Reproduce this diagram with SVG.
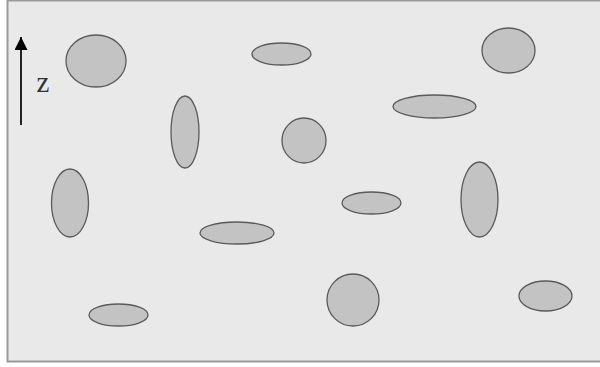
<svg xmlns="http://www.w3.org/2000/svg" width="600" height="367" viewBox="0 0 600 367">
<defs>
<style>
.p{fill:#c3c3c3;stroke:#5a5a5a;stroke-width:1.3}
.ax{stroke:#222;stroke-width:2;fill:none}
.lbl{font-family:"Liberation Serif","DejaVu Serif",serif;font-size:29px;fill:#333}
</style>
<marker id="ah" viewBox="0 0 10 10" refX="10" refY="5" markerWidth="13" markerHeight="13" markerUnits="userSpaceOnUse" orient="auto">
<path d="M0,0 L10,5 L0,10 z" fill="#000"/>
</marker>
</defs>
<rect x="0" y="0" width="600" height="367" fill="#ffffff"/>
<rect x="7.5" y="0.5" width="600" height="361" fill="#e9e9e9" stroke="#9a9a9a" stroke-width="2"/>
<g id="axis">
<line class="ax" x1="21" y1="125" x2="21" y2="37" marker-end="url(#ah)"/>
<text class="lbl" x="36.5" y="92">z</text>
</g>
<g id="particles">
<g id="p1"><ellipse class="p" cx="96" cy="61" rx="30" ry="26"/></g>
<g id="p2"><ellipse class="p" cx="281.5" cy="54" rx="29.5" ry="11"/></g>
<g id="p3"><ellipse class="p" cx="508.5" cy="50.5" rx="26.5" ry="22.5"/></g>
<g id="p4"><ellipse class="p" cx="185" cy="132" rx="14" ry="36"/></g>
<g id="p5"><ellipse class="p" cx="434.5" cy="106.5" rx="41.5" ry="11.5"/></g>
<g id="p6"><ellipse class="p" cx="304" cy="140.5" rx="22" ry="22.5"/></g>
<g id="p7"><ellipse class="p" cx="70" cy="203" rx="18.5" ry="34"/></g>
<g id="p8"><ellipse class="p" cx="371.5" cy="203" rx="29.5" ry="11"/></g>
<g id="p9"><ellipse class="p" cx="479.5" cy="199.5" rx="18.5" ry="37.5"/></g>
<g id="p10"><ellipse class="p" cx="237" cy="233" rx="37" ry="11"/></g>
<g id="p11"><ellipse class="p" cx="118.5" cy="315" rx="29.5" ry="11"/></g>
<g id="p12"><ellipse class="p" cx="353" cy="300" rx="26" ry="26"/></g>
<g id="p13"><ellipse class="p" cx="545.5" cy="296" rx="26.5" ry="15"/></g>
</g>
</svg>
